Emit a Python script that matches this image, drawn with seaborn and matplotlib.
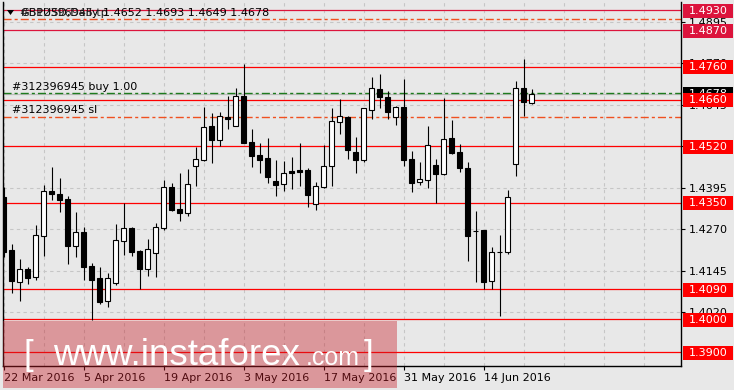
import matplotlib
matplotlib.use('Agg')
import matplotlib.pyplot as plt
import matplotlib.transforms as mtransforms
from matplotlib.patches import Rectangle, Polygon
import numpy as np
import pandas as pd
import seaborn as sns

# ---------------- data ----------------
dates = pd.bdate_range('2016-03-22', '2016-06-22')
opens = [1.4369, 1.4208, 1.4113, 1.4151, 1.4128, 1.4251, 1.4386, 1.4377, 1.4362, 1.4221,
         1.4262, 1.4160, 1.4124, 1.4055, 1.4110, 1.4236, 1.4273, 1.4205, 1.4152, 1.4198,
         1.4275, 1.4398, 1.4331, 1.4320, 1.4462, 1.4480, 1.4581, 1.4540, 1.4609, 1.4582,
         1.4672, 1.4533, 1.4494, 1.4485, 1.4416, 1.4406, 1.4446, 1.4449, 1.4449, 1.4347,
         1.4399, 1.4460, 1.4594, 1.4609, 1.4503, 1.4480, 1.4631, 1.4692, 1.4669, 1.4609,
         1.4639, 1.4482, 1.4414, 1.4420, 1.4463, 1.4438, 1.4545, 1.4503, 1.4455, 1.4265,
         1.4268, 1.4115, 1.4201, 1.4203, 1.4468, 1.4695, 1.4652]
highs = [1.4399, 1.4226, 1.4181, 1.4158, 1.4283, 1.4404, 1.4459, 1.4425, 1.4371, 1.4322,
         1.4276, 1.4168, 1.4156, 1.4139, 1.4286, 1.4349, 1.4276, 1.4207, 1.4240, 1.4289,
         1.4419, 1.4410, 1.4440, 1.4452, 1.4519, 1.4639, 1.4621, 1.4624, 1.4672, 1.4696,
         1.4768, 1.4572, 1.4530, 1.4545, 1.4479, 1.4476, 1.4488, 1.4530, 1.4456, 1.4413,
         1.4524, 1.4636, 1.4663, 1.4612, 1.4548, 1.4636, 1.4729, 1.4738, 1.4687, 1.4642,
         1.4723, 1.4506, 1.4473, 1.4581, 1.4482, 1.4665, 1.4600, 1.4527, 1.4473, 1.4325,
         1.4269, 1.4218, 1.4253, 1.4389, 1.4717, 1.4783, 1.4693]
lows = [1.4188, 1.4079, 1.4055, 1.4106, 1.4118, 1.4190, 1.4359, 1.4323, 1.4167, 1.4188,
        1.4118, 1.3998, 1.4045, 1.4037, 1.4104, 1.4193, 1.4190, 1.4091, 1.4131, 1.4128,
        1.4268, 1.4325, 1.4295, 1.4311, 1.4401, 1.4477, 1.4471, 1.4522, 1.4572, 1.4581,
        1.4529, 1.4459, 1.4441, 1.4411, 1.4372, 1.4387, 1.4393, 1.4402, 1.4338, 1.4329,
        1.4396, 1.4402, 1.4558, 1.4482, 1.4441, 1.4472, 1.4602, 1.4637, 1.4603, 1.4585,
        1.4461, 1.4383, 1.4405, 1.4395, 1.4349, 1.4435, 1.4497, 1.4444, 1.4176, 1.4112,
        1.4090, 1.4090, 1.4010, 1.4196, 1.4431, 1.4612, 1.4649]
closes = [1.4203, 1.4115, 1.4151, 1.4125, 1.4252, 1.4386, 1.4378, 1.4359, 1.4221, 1.4262,
          1.4158, 1.4118, 1.4051, 1.4124, 1.4238, 1.4273, 1.4203, 1.4151, 1.4210, 1.4276,
          1.4398, 1.4328, 1.4320, 1.4407, 1.4482, 1.4579, 1.4540, 1.4612, 1.4603, 1.4672,
          1.4531, 1.4492, 1.4479, 1.4429, 1.4404, 1.4439, 1.4441, 1.4444, 1.4375, 1.4400,
          1.4460, 1.4597, 1.4611, 1.4510, 1.4480, 1.4635, 1.4695, 1.4670, 1.4625, 1.4638,
          1.4480, 1.4411, 1.4421, 1.4523, 1.4438, 1.4541, 1.4500, 1.4456, 1.4251, 1.4264,
          1.4112, 1.4202, 1.4202, 1.4368, 1.4695, 1.4653, 1.4678]

tick_idx = [0, 10, 20, 30, 40, 50, 60]
tick_labels = ['22 Mar 2016', '5 Apr 2016', '19 Apr 2016', '3 May 2016',
               '17 May 2016', '31 May 2016', '14 Jun 2016']
y_ticks = [1.4895, 1.4770, 1.4645, 1.4520, 1.4395, 1.4270, 1.4145, 1.4020]
upper_levels = [1.4930, 1.4870]
lower_levels = [1.4760, 1.4660, 1.4520, 1.4350, 1.4090, 1.4000, 1.3900]
buy_price = 1.4680
tp_price = 1.4903
sl_price = 1.4608
bid_price = 1.4678
order_id = '#312396945'
title_text = 'GBPUSD,Daily'
title_ohlc = '1.4652 1.4693 1.4649 1.4678'

# ---------------- style ----------------
BG = '#E8E8E8'
sns.set_theme(style='white', rc={'axes.facecolor': BG, 'figure.facecolor': BG,
                                 'axes.edgecolor': 'black'})
plt.rcParams['font.family'] = ['DejaVu Sans']

W, H = 734, 390
fig = plt.figure(figsize=(W / 100, H / 100), dpi=100)
fig.patch.set_facecolor(BG)
ax = fig.add_axes([2.5 / W, 24.3 / H, (681.3 - 2.5) / W, (388 - 24.3) / H])
ax.set_facecolor(BG)

df = pd.DataFrame({'date': dates, 'open': opens, 'high': highs,
                   'low': lows, 'close': closes})
df['i'] = np.arange(len(df))
df['bull'] = df['close'] >= df['open']

ax.set_xlim(-0.14, 84.7)
ax.set_ylim(1.38595, 1.4955)

# grid (dashed)
gcol = '#C6C6C6'
for yv in y_ticks:
    ax.axhline(yv, color=gcol, lw=0.8, ls=(0, (3, 3)), zorder=1)
for k in range(0, 85, 5):
    ax.axvline(k, color=gcol, lw=0.8, ls=(0, (3, 3)), zorder=1)

# levels
for lv in upper_levels:
    ax.axhline(lv, color='#DC143C', lw=0.9, zorder=2)
for lv in lower_levels:
    ax.axhline(lv, color='#FF0000', lw=0.9, zorder=2)
ax.axhline(bid_price, color='#BEBEBE', lw=0.9, zorder=2)
dd = (0, (5.8, 2.2, 2.2, 2.2))
ax.axhline(buy_price, color='#1E7B1E', lw=1.0, ls=dd, zorder=2)
ax.axhline(tp_price, color='#F05020', lw=1.0, ls=dd, zorder=2)
ax.axhline(sl_price, color='#F05020', lw=1.0, ls=dd, zorder=2)

# candles
ax.vlines(df['i'], df['low'], df['high'], color='black', lw=0.8, zorder=3)
bottoms = np.minimum(df['open'], df['close'])
heights = np.maximum((df['close'] - df['open']).abs(), 0.00005)
faces = np.where(df['bull'], 'white', 'black')
ax.bar(df['i'], heights, bottom=bottoms, width=0.58, color=faces,
       edgecolor='black', linewidth=0.8, zorder=4)

# axes cosmetics
for s in ['left', 'right', 'bottom']:
    ax.spines[s].set_visible(True)
    ax.spines[s].set_color('black')
    ax.spines[s].set_linewidth(1.0)
ax.spines['top'].set_visible(False)
ax.yaxis.tick_right()
ax.set_yticks(y_ticks)
ax.set_yticklabels([f'{v:.4f}' for v in y_ticks])
ax.tick_params(axis='y', length=3, width=0.8, pad=2.5, labelsize=8, colors='black',
               direction='out', right=True, left=False)
ax.set_xticks(tick_idx)
ax.set_xticklabels(tick_labels)
ax.tick_params(axis='x', length=3, width=0.8, pad=2, labelsize=8, colors='black',
               direction='out', bottom=True)
for lbl in ax.get_xticklabels():
    lbl.set_ha('left')
ax.grid(False)
ax.set_xlabel('')
ax.set_ylabel('')

# right price boxes
tr = mtransforms.blended_transform_factory(ax.transAxes, ax.transData)
pxp = 0.0003012
bx0 = (682.7 - 2.5) / (681.3 - 2.5)
bw = 50 / (681.3 - 2.5)
tx0 = (688.8 - 2.5) / (681.3 - 2.5)


def price_box(level, fc, z):
    ax.add_patch(Rectangle((bx0, level - 7.5 * pxp), bw, 14 * pxp, transform=tr,
                           facecolor=fc, edgecolor='none', clip_on=False, zorder=z))
    ax.text(tx0, level - 0.5 * pxp, f'{level:.4f}', transform=tr, color='white',
            fontsize=8, va='center', ha='left', clip_on=False, zorder=z + 0.1)


price_box(bid_price, 'black', 6)
for lv in upper_levels:
    price_box(lv, '#DC143C', 7)
for lv in lower_levels:
    price_box(lv, '#FF0000', 7)


# top-left texts
def fx(x):
    return x / W


def fy(y):
    return 1 - y / H


fig.add_artist(Polygon([[fx(7), fy(10)], [fx(14), fy(10)], [fx(10.5), fy(15)]],
                       closed=True, transform=fig.transFigure, facecolor='black',
                       edgecolor='none', zorder=5))
fig.text(fx(20), fy(12.7), title_text, fontsize=8, va='center', ha='left', color='black')
fig.text(fx(20), fy(12.7), order_id + ' tp', fontsize=8, va='center', ha='left',
         color='#202020')
fig.text(fx(103), fy(12.7), title_ohlc, fontsize=8, va='center', ha='left', color='black')
fig.text(fx(11.7), fy(87.3), order_id + ' buy 1.00', fontsize=8, va='center',
         ha='left', color='black')
fig.text(fx(11.7), fy(110), order_id + ' sl', fontsize=8, va='center', ha='left',
         color='black')

# watermark
fig.add_artist(Rectangle((fx(3), fy(388)), 394 / W, 67.3 / H, transform=fig.transFigure,
                         facecolor='#C81E28', alpha=0.4, edgecolor='none', zorder=10))
wm = dict(color='white', va='baseline', ha='left', family=['Liberation Sans'], zorder=11)
fig.text(fx(24), fy(365), '[', fontsize=25, **wm)
fig.text(fx(53), fy(365), 'www.instaforex', fontsize=26.5, **wm)
fig.text(fx(306), fy(365), '.com', fontsize=18, **wm)
fig.text(fx(364), fy(365), ']', fontsize=25, **wm)

fig.savefig('out.png', dpi=100, facecolor=BG)
